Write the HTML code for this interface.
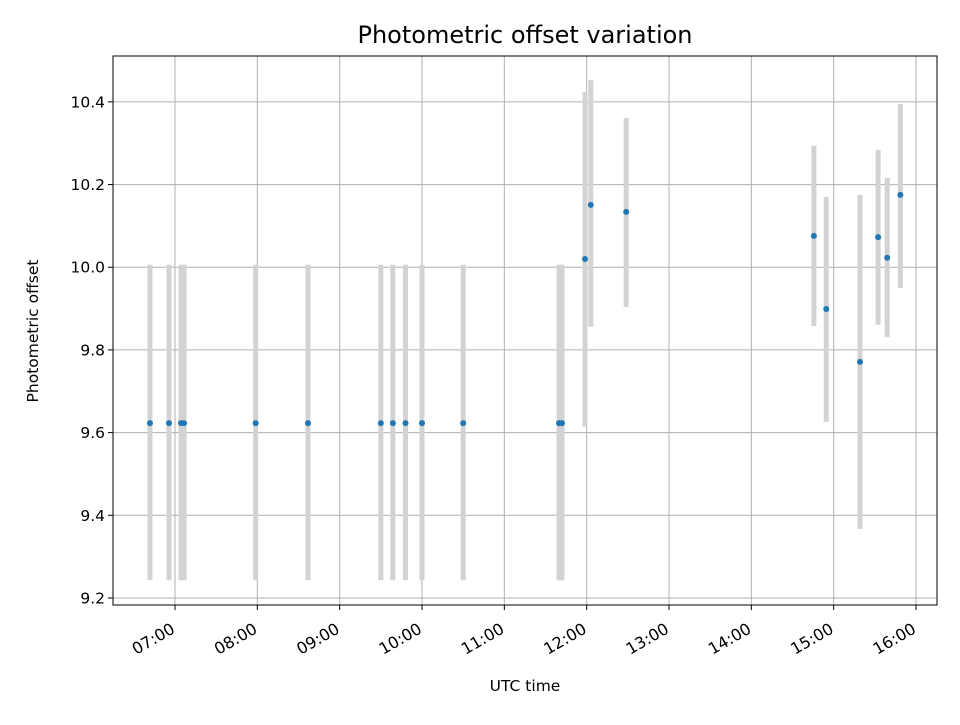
<!DOCTYPE html>
<html><head><meta charset="utf-8"><style>
body{margin:0;background:#fff;font-family:"Liberation Sans","DejaVu Sans",sans-serif;}
svg text{font-family:"DejaVu Sans","Liberation Sans",sans-serif;}
</style></head><body>
<svg id="chart" width="960" height="720" xmlns="http://www.w3.org/2000/svg">
<rect width="960" height="720" fill="#fff"/>
<g id="grid"></g><g id="bars"></g><g id="pts"></g><g id="ticks"></g>
<rect x="113" y="56" width="824" height="549" fill="none" stroke="#000" stroke-width="1"/>
<text x="525" y="43" text-anchor="middle" font-size="24">Photometric offset variation</text>
<text x="525" y="691" text-anchor="middle" font-size="15.5">UTC time</text>
<text transform="translate(38,331) rotate(-90)" text-anchor="middle" font-size="15.5">Photometric offset</text>
</svg>
<script>
const times=[6.696,6.927,7.073,7.11,7.98,8.615,9.50,9.646,9.80,10.0,10.50,11.664,11.70,11.98,12.05,12.48,14.76,14.91,15.32,15.54,15.65,15.81];
const values=[9.623,9.623,9.623,9.623,9.623,9.623,9.623,9.623,9.623,9.623,9.623,9.623,9.623,10.02,10.151,10.134,10.076,9.899,9.771,10.073,10.023,10.175];
const lows=[9.243,9.243,9.243,9.243,9.243,9.243,9.243,9.243,9.243,9.243,9.243,9.243,9.243,9.614,9.856,9.904,9.858,9.626,9.367,9.861,9.831,9.95];
const highs=[10.006,10.006,10.006,10.006,10.006,10.006,10.006,10.006,10.006,10.006,10.006,10.006,10.006,10.424,10.453,10.361,10.294,10.17,10.175,10.284,10.216,10.395];
const xTicks=[7,8,9,10,11,12,13,14,15,16];
const xTickLabels=["07:00","08:00","09:00","10:00","11:00","12:00","13:00","14:00","15:00","16:00"];
const yTicks=[9.2,9.4,9.6,9.8,10.0,10.2,10.4];
const yTickLabels=["9.2","9.4","9.6","9.8","10.0","10.2","10.4"];
const L=113,R=937,T=56,B=605,x0=6.247,x1=16.255,y0=9.183,y1=10.511;
const X=v=>L+(v-x0)/(x1-x0)*(R-L);
const Y=v=>B-(v-y0)/(y1-y0)*(B-T);
const NS="http://www.w3.org/2000/svg";
function mk(t,a,p){const e=document.createElementNS(NS,t);for(const k in a)e.setAttribute(k,a[k]);p.appendChild(e);return e;}
const g=document.getElementById('grid'),tk=document.getElementById('ticks');
xTicks.forEach((v,i)=>{const x=X(v);
 const l=mk('line',{x1:x,x2:x,y1:T,y2:B,stroke:'#b0b0b0','stroke-width':1},g);
 
 
 mk('line',{x1:x,x2:x,y1:B,y2:B+5,stroke:'#000'},tk);
 const t=mk('text',{transform:`translate(${x+1},${B+27}) rotate(-30)`,'text-anchor':'end','font-size':'16'},tk);
 t.textContent=xTickLabels[i];
 
 });
yTicks.forEach((v,i)=>{const y=Y(v);
 const l=mk('line',{x1:L,x2:R,y1:y,y2:y,stroke:'#b0b0b0','stroke-width':1},g);
 
 
 mk('line',{x1:L-5,x2:L,y1:y,y2:y,stroke:'#000'},tk);
 const t=mk('text',{x:L-8,y:y+5.5,'text-anchor':'end','font-size':'15.5'},tk);
 t.textContent=yTickLabels[i];
 
 });
const bg=document.getElementById('bars'),pg=document.getElementById('pts');
times.forEach((t,i)=>{const x=X(t);
 const b=mk('line',{x1:x,x2:x,y1:Y(lows[i]),y2:Y(highs[i]),stroke:'#d3d3d3','stroke-width':5},bg);
 
 
 const c=mk('circle',{cx:x,cy:Y(values[i]),r:3,fill:'#1f77b4'},pg);
 
 });
</script>
</body></html>
